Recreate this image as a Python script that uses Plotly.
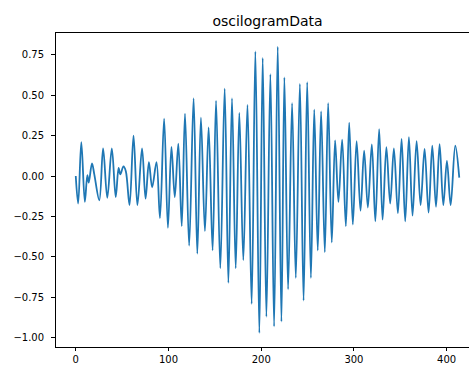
import plotly.graph_objects as go

# Extrema / shape points of the oscillogram (sample index, amplitude)
sample_idx = [0, 2.6, 6.0, 9.8, 12.5, 14.0, 17.5, 20.0, 25.4, 29.5, 34.0, 38.9, 43.1, 46.2, 48.0,
              51.5, 54.0, 58.0, 62.3, 66.5, 71.5, 75.3, 78.9, 82.4, 87.1, 90.8, 95.3, 99.4,
              103.2, 106.8, 110.6, 114.3, 117.8, 122.3, 127.1, 131.1, 135.0, 139.3, 143.3,
              147.6, 151.3, 155.9, 160.6, 164.6, 168.5, 172.5, 176.4, 180.7, 185.2, 189.7,
              193.7, 198.0, 201.6, 205.6, 209.9, 213.9, 217.8, 221.8, 225.0, 229.0, 233.3,
              237.3, 241.7, 245.7, 249.6, 253.6, 257.2, 261.0, 264.6, 268.6, 272.2, 276.1,
              279.7, 283.3, 287.3, 291.3, 294.9, 298.8, 302.9, 307.1, 311.0, 315.0, 319.3,
              323.1, 327.2, 330.9, 335.0, 339.1, 343.1, 347.4, 351.4, 355.3, 359.3, 363.2,
              367.6, 371.9, 376.2, 380.5, 384.5, 388.5, 392.4, 396.4, 400.3, 404.3, 409.3,
              413.6]
amplitude = [0.0, -0.17, 0.21, -0.16, 0.005, -0.04, 0.078, 0.01, -0.15, 0.17, -0.135, 0.17, -0.13,
             0.05, 0.01, 0.06, 0.03, -0.18, 0.25, -0.18, 0.17, -0.14, 0.085, -0.07, 0.085, -0.26,
             0.355, -0.32, 0.18, -0.13, 0.20, -0.31, 0.385, -0.43, 0.48, -0.48, 0.36, -0.34,
             0.30, -0.46, 0.465, -0.57, 0.54, -0.66, 0.48, -0.57, 0.39, -0.52, 0.44, -0.79,
             0.77, -0.97, 0.73, -0.87, 0.63, -0.93, 0.80, -0.90, 0.61, -0.70, 0.45, -0.63,
             0.57, -0.77, 0.58, -0.63, 0.41, -0.46, 0.40, -0.47, 0.45, -0.41, 0.22, -0.16,
             0.225, -0.31, 0.33, -0.30, 0.215, -0.215, 0.156, -0.195, 0.196, -0.28, 0.29,
             -0.27, 0.178, -0.17, 0.17, -0.23, 0.23, -0.28, 0.24, -0.245, 0.216, -0.18, 0.167,
             -0.226, 0.187, -0.19, 0.197, -0.18, 0.093, -0.18, 0.187, -0.01]

x_tick_vals = [0, 100, 200, 300, 400]
x_tick_text = ["0", "100", "200", "300", "400"]
y_tick_vals = [0.75, 0.5, 0.25, 0.0, -0.25, -0.5, -0.75, -1.0]
y_tick_text = ["0.75", "0.50", "0.25", "0.00", "\u22120.25", "\u22120.50", "\u22120.75", "\u22121.00"]

fig = go.Figure()
fig.add_trace(go.Scatter(x=sample_idx, y=amplitude, mode="lines",
                         line=dict(color="#1f77b4", width=1.8, shape="spline", smoothing=1.0),
                         hoverinfo="skip", showlegend=False))

axis_font = dict(family="DejaVu Sans", size=10, color="#000000")
fig.update_layout(
    width=469, height=365,
    margin=dict(l=56, r=0, t=33, b=18, autoexpand=False),
    paper_bgcolor="white", plot_bgcolor="white",
    title=dict(text="oscilogramData", x=267.5 / 469, xref="container", xanchor="center",
               y=1 - 21 / 365, yref="container", yanchor="middle",
               font=dict(family="DejaVu Sans", size=14, color="#000000")),
    xaxis=dict(range=[-21.3, 424.1], tickvals=x_tick_vals, ticktext=x_tick_text,
               showgrid=False, zeroline=False, showline=True, linecolor="#000000", linewidth=0.8,
               mirror=True, ticks="outside", ticklen=3.5, tickwidth=0.8, tickcolor="#000000",
               tickfont=axis_font, automargin=False, ticklabelstandoff=0),
    yaxis=dict(range=[-1.057, 0.884], tickvals=y_tick_vals, ticktext=y_tick_text,
               showgrid=False, zeroline=False, showline=True, linecolor="#000000", linewidth=0.8,
               mirror=False, ticks="outside", ticklen=4, tickwidth=0.8, tickcolor="#000000",
               tickfont=axis_font, automargin=False, ticklabelstandoff=5),
)

fig.write_html("out.html", config={"displayModeBar": False},
               post_script="document.body.style.margin='0';document.body.style.overflow='hidden';")
